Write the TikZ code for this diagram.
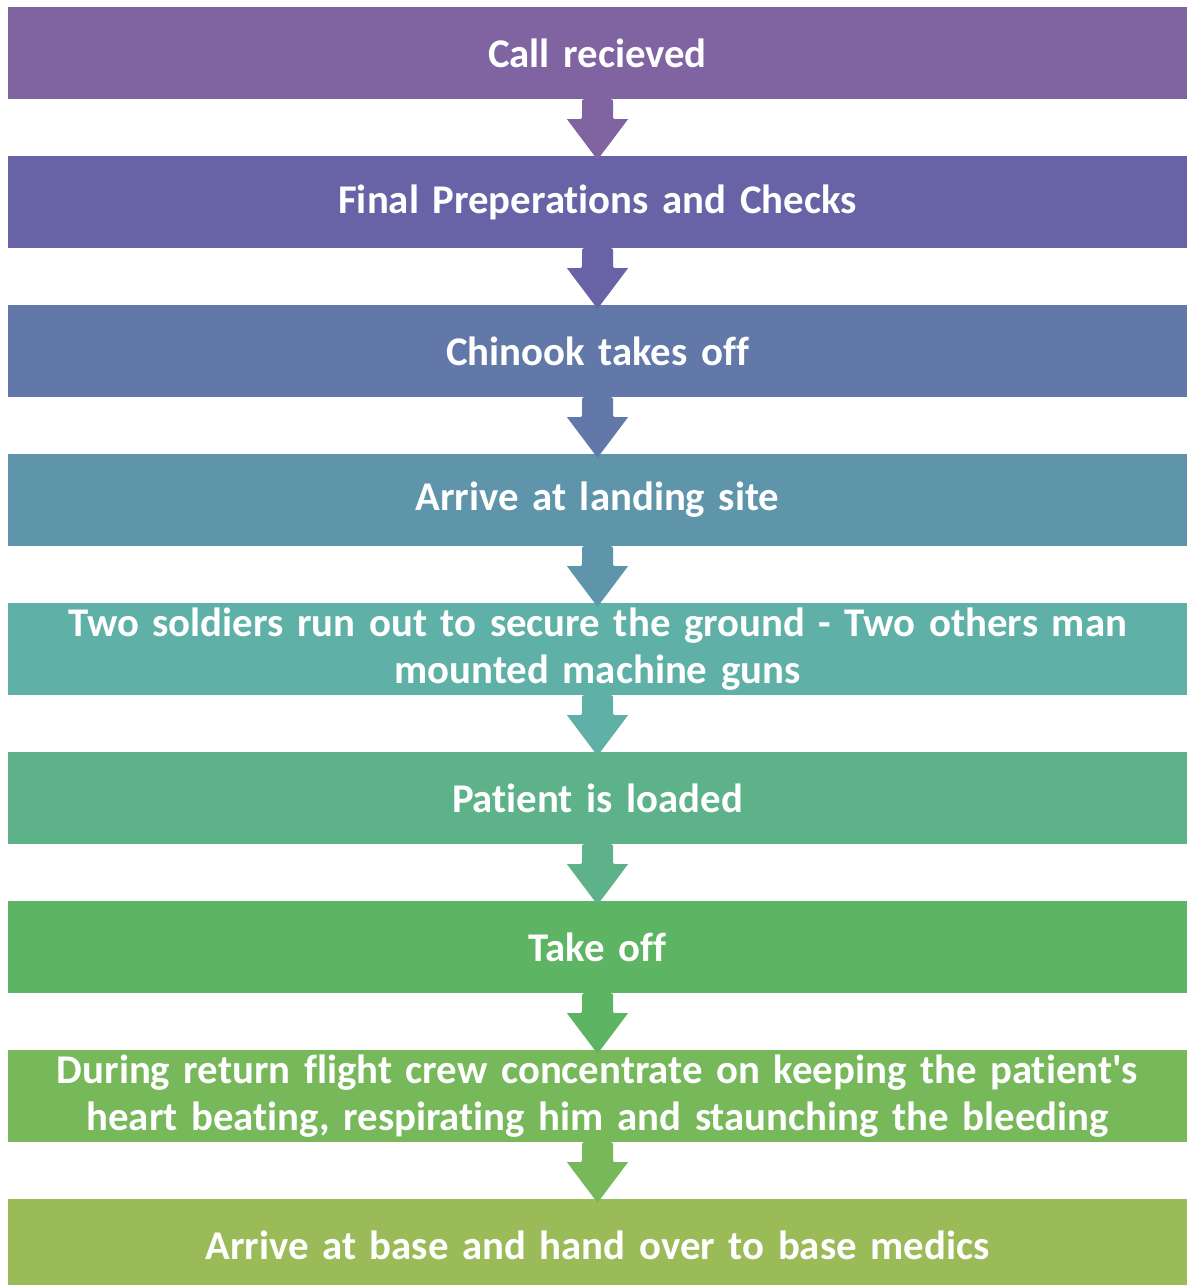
\documentclass[tikz,border=0pt]{standalone}
\usepackage{fontspec}
\setmainfont[Ligatures={NoCommon}]{Carlito}
\definecolor{c1}{HTML}{8064A2}
\definecolor{c2}{HTML}{6763A6}
\definecolor{c3}{HTML}{6178A8}
\definecolor{c4}{HTML}{5E95AA}
\definecolor{c5}{HTML}{5FB0A6}
\definecolor{c6}{HTML}{5EB28A}
\definecolor{c7}{HTML}{5DB462}
\definecolor{c8}{HTML}{76B85A}
\definecolor{c9}{HTML}{9BBB59}
\tikzset{
  stepbox/.style={draw=none, minimum width=1179pt, minimum height=92pt, inner sep=0pt,
    text=white, font=\bfseries\fontsize{40.8pt}{46.5pt}\selectfont, align=center, text width=1170pt},
}
\begin{document}
\begin{tikzpicture}[x=1pt,y=-1pt]
\useasboundingbox (0,0) rectangle (1191,1285);
\def\boxlist{1/{Call recieved},2/{Final Preperations and Checks},3/{Chinook takes off},4/{Arrive at landing site},5/{Two soldiers run out to secure the ground - Two others man\\mounted machine guns},6/{Patient is loaded},7/{Take off},8/{During return flight crew concentrate on keeping the patient\textquotesingle s\\heart beating, respirating him and staunching the bleeding},9/{Arrive at base and hand over to base medics}}
\foreach \i/\t in \boxlist {
  \pgfmathsetmacro{\yc}{7+149*(\i-1)+46}
  \node[stepbox, fill=c\i] (b\i) at (597.5,\yc) {\t};
}
\foreach \i [evaluate=\i as \j using int(\i+1)] in {1,...,8} {
  \fill[c\i, rounded corners=2pt] ([xshift=-15.5pt]b\i.south) -- ([xshift=-15.5pt,yshift=-20pt]b\i.south) [sharp corners] -- ([xshift=-30.5pt,yshift=-20pt]b\i.south) -- ([yshift=-4pt]b\j.north) -- ([xshift=30.5pt,yshift=-20pt]b\i.south) [rounded corners=2pt] -- ([xshift=15.5pt,yshift=-20pt]b\i.south) -- ([xshift=15.5pt]b\i.south) -- cycle;
}
\end{tikzpicture}
\end{document}
